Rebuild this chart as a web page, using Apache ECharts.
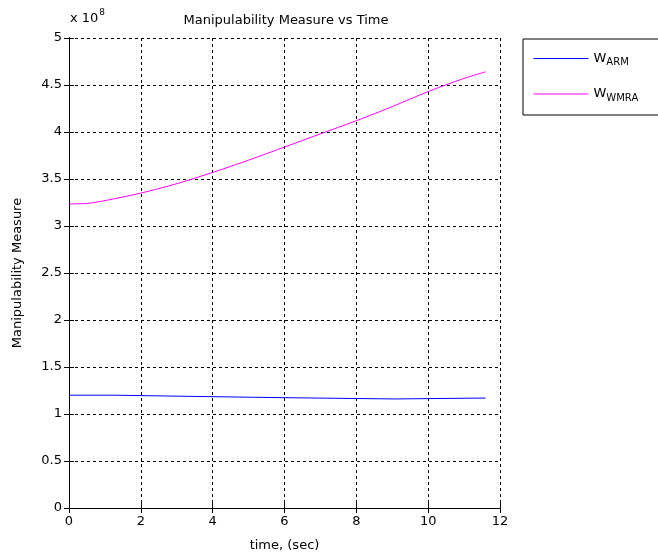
<!DOCTYPE html>
<html><head><meta charset="utf-8">
<script src="https://cdn.jsdelivr.net/npm/echarts@6/dist/echarts.min.js"></script>
<style>html,body{margin:0;padding:0;background:#fff;}#c{width:658px;height:558px;}</style>
</head><body><div id="c"></div>
<script>
// values in units of 1e8
const armTime = [0, 1.28, 1.28, 2.95, 2.95, 5.68, 5.68, 9.08, 9.08, 11.6];
const armW    = [1.20, 1.20, 1.19, 1.19, 1.175, 1.175, 1.16, 1.16, 1.17, 1.17];
const wmraTime = [0, 0.5, 1, 2, 3, 4, 5, 6, 7, 8, 9, 10, 11, 11.6];
const wmraW    = [3.235, 3.24, 3.27, 3.35, 3.45, 3.57, 3.70, 3.84, 3.98, 4.12, 4.27, 4.43, 4.57, 4.64];
const xTicks = [0, 2, 4, 6, 8, 10, 12];
const yTicks = [0, 0.5, 1, 1.5, 2, 2.5, 3, 3.5, 4, 4.5, 5];
const seriesNames = ['ARM', 'WMRA'];
const seriesColors = ['#0000ff', '#ff00ff'];

const font = '"DejaVu Sans", Verdana, sans-serif';
const fs = 13;
const chart = echarts.init(document.getElementById('c'));
const pair = (a, b) => a.map((v, i) => [v, b[i]]);
const gridLine = {show: true, lineStyle: {color: '#000', type: [3, 3], width: 1}};
const axisLine = {show: true, lineStyle: {color: '#000', width: 1}};
const tick = {show: true, inside: true, length: 5, lineStyle: {color: '#000'}};
chart.setOption({
  animation: false,
  backgroundColor: '#fff',
  title: {text: 'Manipulability Measure vs Time', left: 281, textAlign: 'center', top: 9,
    textStyle: {fontFamily: font, fontSize: fs, fontWeight: 'normal', color: '#000'}},
  grid: {left: 69, right: 158, top: 38, bottom: 50},
  legend: {
    left: 523, top: 39, orient: 'vertical', itemWidth: 55, itemHeight: 14, itemGap: 20,
    itemStyle: {opacity: 0}, lineStyle: {width: 1},
    padding: [13, 30, 12, 10], borderColor: '#000', borderWidth: 1, backgroundColor: '#fff',
    data: seriesNames,
    formatter: n => '{w|W}{s|' + n + '}',
    textStyle: {fontFamily: font, color: '#000', rich: {
      w: {fontSize: fs, fontFamily: font, color: '#000'},
      s: {fontSize: 10, fontFamily: font, color: '#000', padding: [8, 0, 0, 0]}
    }}
  },
  graphic: [{
    type: 'text', left: 70, top: 8,
    style: {text: '{a|x 10}{b|8}', fontFamily: font, fill: '#000', rich: {
      a: {fontSize: fs, fontFamily: font, padding: [6, 0, 0, 0]},
      b: {fontSize: 9, fontFamily: font, padding: [0, 0, 6, 1]}
    }}
  }],
  xAxis: [{
    type: 'value', min: 0, max: 12, interval: 2, name: 'time, (sec)', nameLocation: 'middle', nameGap: 31,
    nameTextStyle: {fontFamily: font, fontSize: fs, color: '#000'},
    axisLine, axisTick: tick,
    axisLabel: {fontFamily: font, fontSize: fs, color: '#000', margin: 7}, splitLine: gridLine
  }, {
    type: 'value', position: 'top', min: 0, max: 12, interval: 2,
    axisLine, axisTick: tick, axisLabel: {show: false}, splitLine: {show: false}
  }],
  yAxis: [{
    type: 'value', min: 0, max: 5, interval: 0.5, name: 'Manipulability Measure', nameLocation: 'middle', nameGap: 45,
    nameTextStyle: {fontFamily: font, fontSize: fs, color: '#000'},
    axisLine, axisTick: tick,
    axisLabel: {fontFamily: font, fontSize: fs, color: '#000', margin: 7, formatter: v => String(v)}, splitLine: gridLine
  }, {
    type: 'value', position: 'right', min: 0, max: 5, interval: 0.5,
    axisLine, axisTick: tick, axisLabel: {show: false}, splitLine: {show: false}
  }],
  series: [
    {name: seriesNames[0], type: 'line', symbol: 'none', data: pair(armTime, armW), lineStyle: {color: seriesColors[0], width: 1}, itemStyle: {color: seriesColors[0]}},
    {name: seriesNames[1], type: 'line', symbol: 'none', smooth: 0.3, data: pair(wmraTime, wmraW), lineStyle: {color: seriesColors[1], width: 1}, itemStyle: {color: seriesColors[1]}}
  ]
});
</script></body></html>
